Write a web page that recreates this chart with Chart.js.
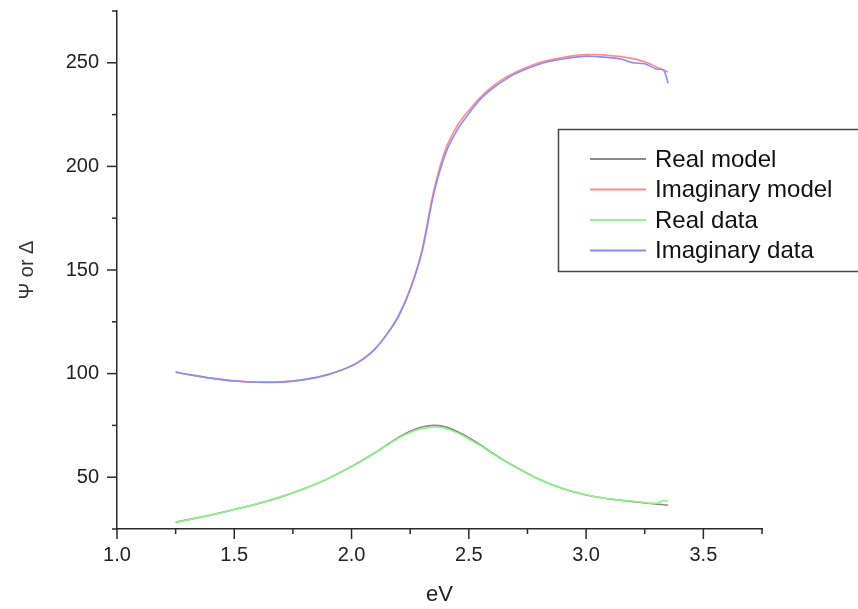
<!DOCTYPE html>
<html><head><meta charset="utf-8">
<script src="https://cdn.jsdelivr.net/npm/chart.js@4"></script>
<style>html,body{margin:0;padding:0;background:#fff}#wrap{width:858px;height:609px}</style>
</head><body><div id="wrap"><canvas id="c" width="858" height="609"></canvas></div>
<script>
// ---- data ----
const energy = [1.25,1.3,1.4,1.5,1.6,1.7,1.8,1.9,2.0,2.05,2.1,2.15,2.2,2.25,2.3,2.35,2.4,2.45,2.5,2.55,2.6,2.65,2.7,2.8,2.9,3.0,3.05,3.1,3.15,3.2,3.25,3.3,3.33,3.35];
const realModel = [28.3,29.4,31.8,34.4,37.2,40.5,44.5,49.3,55.2,58.4,61.8,65.5,69.2,72.2,74.2,75.0,74.3,72.1,69.1,65.6,61.7,58.1,54.9,49.0,44.5,41.4,40.3,39.5,38.8,38.2,37.6,37.0,36.7,36.5];
const imagModel = [100.6,99.6,97.8,96.5,95.9,96.0,97.2,99.6,103.8,107.2,112.0,119.0,128.0,141.0,159.5,188.0,208.0,219.5,227.0,233.5,238.5,242.5,245.5,250.0,252.5,254.0,254.0,253.5,253.0,252.0,250.5,248.0,246.5,245.5];
const realData = [28.1,29.3,31.7,34.4,37.3,40.6,44.6,49.4,55.3,58.5,61.8,65.3,68.8,71.6,73.4,74.1,73.5,71.4,68.4,65.1,61.4,58.0,54.8,49.0,44.6,41.5,40.4,39.6,38.9,38.4,37.8,37.4,38.8,38.2];
const imagData = [100.8,99.7,97.8,96.4,95.8,95.9,97.1,99.5,103.6,107.0,111.8,118.8,127.5,140.5,158.5,186.5,206.0,217.5,225.5,232.5,237.5,241.5,244.8,249.3,251.8,253.2,253.0,252.5,251.8,250.0,249.5,247.0,246.5,240.0];
const seriesLabels = ['Real model','Imaginary model','Real data','Imaginary data'];
const xTickLabels = ['1.0','1.5','2.0','2.5','3.0','3.5'];
const yTickLabels = ['50','100','150','200','250'];
const xMinorTicks = [1.0,1.25,1.5,1.75,2.0,2.25,2.5,2.75,3.0,3.25,3.5,3.75];
const yMinorTicks = [25,50,75,100,125,150,175,200,225,250,275];

const colors = ['#8a8a8a','#ff8a8a','#8cf58c','#8a8aff'];
const FONT = "'Liberation Sans', Arial, Helvetica, sans-serif";
const AXIS = '#2a2a2a';

const series = [realModel, imagModel, realData, imagData];
const datasets = series.map((arr, k) => ({
  label: seriesLabels[k],
  data: energy.map((e, i) => ({x: e, y: arr[i]})),
  borderColor: colors[k],
  borderWidth: 1.6,
  pointRadius: 0,
  fill: false,
  tension: 0.3,
  order: k < 2 ? 2 : 1,
  cubicInterpolationMode: k < 2 ? 'monotone' : 'default'
}));

const tickPlugin = {
  id: 'ticks',
  afterDatasetsDraw(chart) {
    const ctx = chart.ctx, xs = chart.scales.x, ys = chart.scales.y;
    const ca = chart.chartArea;
    ctx.save();
    ctx.strokeStyle = AXIS; ctx.lineWidth = 1.5;
    xMinorTicks.forEach(v => {
      const px = xs.getPixelForValue(v);
      const major = Math.abs(v*2 - Math.round(v*2)) < 1e-6 && xTickLabels.includes(v.toFixed(1));
      ctx.beginPath(); ctx.moveTo(px, ca.bottom); ctx.lineTo(px, ca.bottom + (major ? 10 : 5)); ctx.stroke();
    });
    yMinorTicks.forEach(v => {
      const py = ys.getPixelForValue(v);
      const major = yTickLabels.includes(String(v));
      ctx.beginPath(); ctx.moveTo(ca.left, py); ctx.lineTo(ca.left - (major ? 10 : 5), py); ctx.stroke();
    });
    ctx.restore();
  }
};

const legendPlugin = {
  id: 'boxLegend',
  afterDraw(chart) {
    const ctx = chart.ctx;
    ctx.save();
    ctx.fillStyle = '#fff';
    ctx.fillRect(558, 129, 302, 143);
    ctx.strokeStyle = '#444'; ctx.lineWidth = 1.5;
    ctx.strokeRect(558.5, 129.5, 310, 142);
    ctx.font = '24px ' + FONT;
    ctx.textBaseline = 'middle';
    ctx.fillStyle = '#111';
    seriesLabels.forEach((label, i) => {
      const y = 159 + i * 30.5;
      ctx.strokeStyle = colors[i]; ctx.lineWidth = 2;
      ctx.beginPath(); ctx.moveTo(590, y); ctx.lineTo(646, y); ctx.stroke();
      ctx.fillText(label, 655, y + 1);
    });
    ctx.restore();
  }
};

new Chart(document.getElementById('c'), {
  type: 'line',
  data: { datasets },
  options: {
    responsive: false,
    animation: false,
    devicePixelRatio: 1,
    layout: { padding: { left: 0, right: 96, top: 11, bottom: 0 } },
    plugins: { legend: { display: false }, tooltip: { enabled: false } },
    scales: {
      x: {
        type: 'linear', min: 1.0, max: 3.75,
        afterFit(s) { s.height = 80; s.paddingLeft = 0; s.paddingRight = 0; },
        grid: { display: false, drawTicks: false },
        border: { display: true, color: AXIS, width: 1.5 },
        ticks: {
          stepSize: 0.25, autoSkip: false, maxRotation: 0, padding: 14,
          color: '#222', font: { family: FONT, size: 20 },
          callback: (v) => { const s = Number(v).toFixed(1); return (Math.abs(v*2 - Math.round(v*2)) < 1e-6 && xTickLabels.includes(s)) ? s : ''; }
        },
        title: { display: true, text: 'eV', color: '#222', font: { family: FONT, size: 22 }, padding: { top: 0, bottom: 1 } }
      },
      y: {
        type: 'linear', min: 25, max: 275,
        afterFit(s) { s.width = 117; s.paddingTop = 0; s.paddingBottom = 0; },
        grid: { display: false, drawTicks: false },
        border: { display: true, color: AXIS, width: 1.5 },
        ticks: {
          stepSize: 25, autoSkip: false, padding: 18,
          color: '#222', font: { family: FONT, size: 20 },
          callback: (v) => yTickLabels.includes(String(v)) ? String(v) : ''
        },
        title: { display: true, text: 'Ψ or Δ', color: '#333', font: { family: FONT, size: 20 }, padding: { top: 15, bottom: 0 } }
      }
    }
  },
  plugins: [tickPlugin, legendPlugin]
});
</script>
</body></html>
